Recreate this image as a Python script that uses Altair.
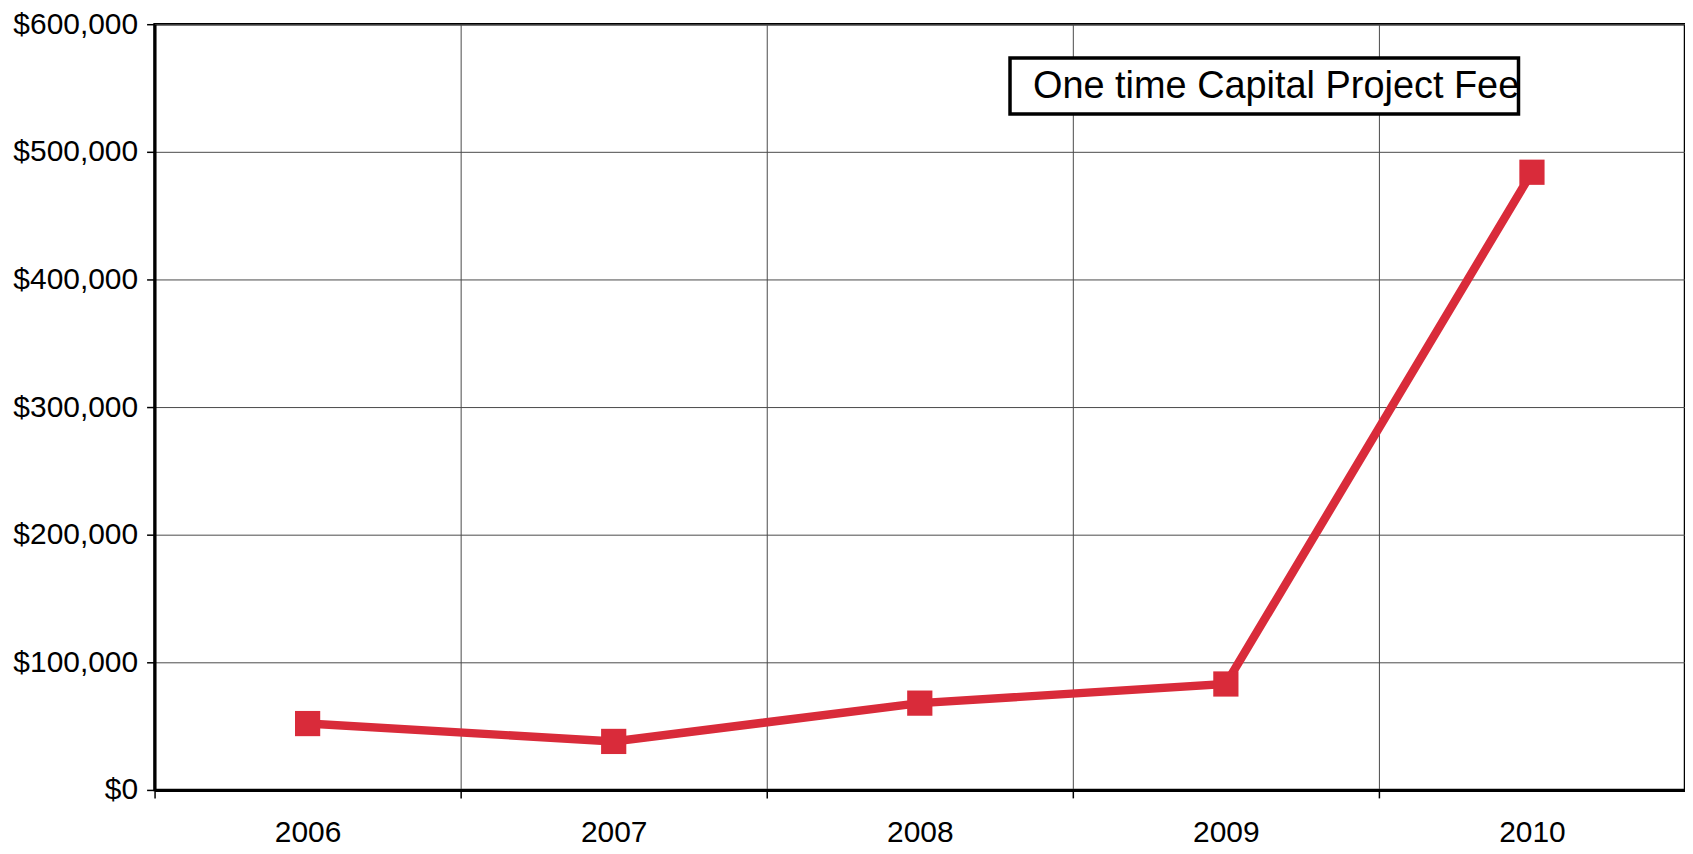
import altair as alt
import pandas as pd

years = ["2006", "2007", "2008", "2009", "2010"]
fees = [52000, 38000, 68000, 83000, 484000]
series_name = "One time Capital Project Fee"
y_ticks = [0, 100000, 200000, 300000, 400000, 500000, 600000]

df = pd.DataFrame({"year": years, "fee": fees})
note = pd.DataFrame({"label": [series_name]})

W, H = 1535, 768
band = W / len(years)
red = "#d92b3a"
FONT = "Liberation Sans"

line = alt.Chart(df).mark_line(
    strokeWidth=8.5, color=red,
    point=alt.OverlayMarkDef(shape="square", size=640, filled=True, opacity=1, color=red),
).encode(
    x=alt.X(
        "year:O",
        sort=years,
        scale=alt.Scale(type="point", padding=0.5),
        axis=alt.Axis(
            title=None, labelAngle=0, labelFontSize=30, labelPadding=20,
            tickOffset=-band / 2, labelOffset=band / 2, grid=True,
        ),
    ),
    y=alt.Y(
        "fee:Q",
        scale=alt.Scale(domain=[0, 600000], nice=False),
        axis=alt.Axis(values=y_ticks, format="$,.0f", title=None,
                      labelFontSize=30, labelPadding=9),
    ),
)

box = alt.Chart(note).mark_rect(
    fill="white", stroke="black", strokeWidth=3.5
).encode(
    x=alt.value(858), x2=alt.value(1368), y=alt.value(34), y2=alt.value(90)
)

label = alt.Chart(note).mark_text(
    font=FONT, fontSize=38, align="left", baseline="middle", color="black"
).encode(
    text="label:N", x=alt.value(881), y=alt.value(63)
)

chart = alt.layer(line, box, label).properties(
    width=W, height=H,
    autosize=alt.AutoSizeParams(type="none"),
    padding={"left": 147, "top": 15, "right": 0, "bottom": 56},
).configure_view(
    stroke="black", strokeWidth=2.5
).configure_axis(
    domainColor="black", domainWidth=3, tickColor="black", tickWidth=1.5,
    tickSize=8, gridColor="#4a4a4a", gridWidth=1, gridOpacity=1,
    labelFont=FONT, labelColor="black",
)

chart.save("out.html", embed_options={"renderer": "svg", "actions": False})
